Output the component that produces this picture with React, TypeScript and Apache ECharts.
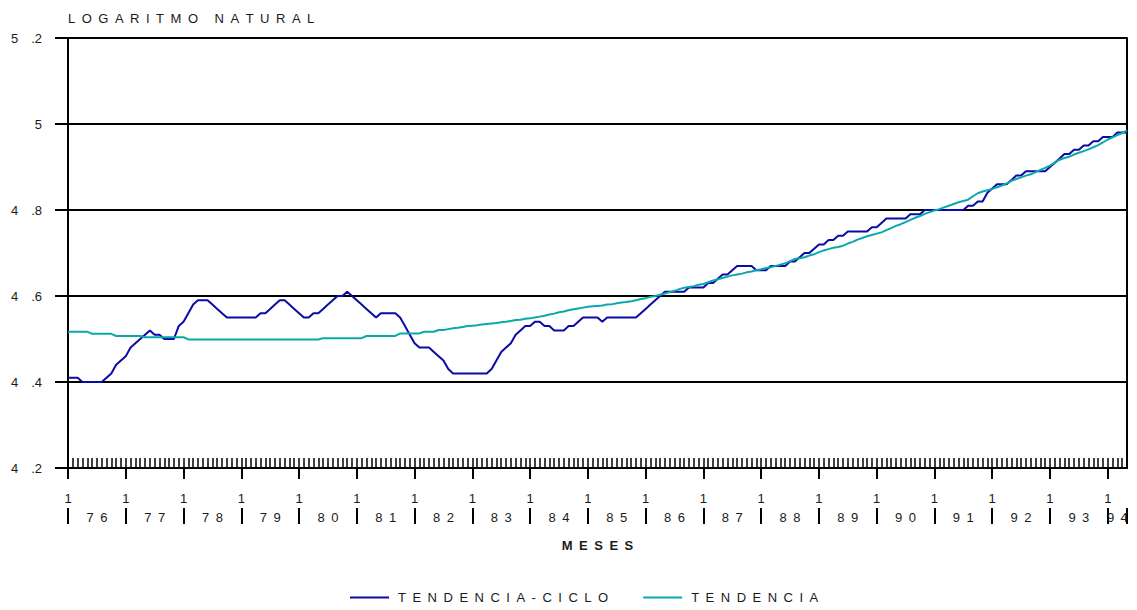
import React, { useEffect, useRef } from 'react';
import * as echarts from 'echarts';

const years = ['76', '77', '78', '79', '80', '81', '82', '83', '84', '85', '86', '87', '88', '89', '90', '91', '92', '93', '94'];
const seriesNames = ['TENDENCIA-CICLO', 'TENDENCIA'];

// monthly values, Jan 1976 .. May 1994
const tendenciaCiclo = [
  4.41, 4.41, 4.41, 4.40, 4.40, 4.40, 4.40, 4.40, 4.41, 4.42, 4.44, 4.45,
  4.46, 4.48, 4.49, 4.50, 4.51, 4.52, 4.51, 4.51, 4.50, 4.50, 4.50, 4.53,
  4.54, 4.56, 4.58, 4.59, 4.59, 4.59, 4.58, 4.57, 4.56, 4.55, 4.55, 4.55,
  4.55, 4.55, 4.55, 4.55, 4.56, 4.56, 4.57, 4.58, 4.59, 4.59, 4.58, 4.57,
  4.56, 4.55, 4.55, 4.56, 4.56, 4.57, 4.58, 4.59, 4.60, 4.60, 4.61, 4.60,
  4.59, 4.58, 4.57, 4.56, 4.55, 4.56, 4.56, 4.56, 4.56, 4.55, 4.53, 4.51,
  4.49, 4.48, 4.48, 4.48, 4.47, 4.46, 4.45, 4.43, 4.42, 4.42, 4.42, 4.42,
  4.42, 4.42, 4.42, 4.42, 4.43, 4.45, 4.47, 4.48, 4.49, 4.51, 4.52, 4.53,
  4.53, 4.54, 4.54, 4.53, 4.53, 4.52, 4.52, 4.52, 4.53, 4.53, 4.54, 4.55,
  4.55, 4.55, 4.55, 4.54, 4.55, 4.55, 4.55, 4.55, 4.55, 4.55, 4.55, 4.56,
  4.57, 4.58, 4.59, 4.60, 4.61, 4.61, 4.61, 4.61, 4.61, 4.62, 4.62, 4.62,
  4.62, 4.63, 4.63, 4.64, 4.65, 4.65, 4.66, 4.67, 4.67, 4.67, 4.67, 4.66,
  4.66, 4.66, 4.67, 4.67, 4.67, 4.67, 4.68, 4.68, 4.69, 4.70, 4.70, 4.71,
  4.72, 4.72, 4.73, 4.73, 4.74, 4.74, 4.75, 4.75, 4.75, 4.75, 4.75, 4.76,
  4.76, 4.77, 4.78, 4.78, 4.78, 4.78, 4.78, 4.79, 4.79, 4.79, 4.80, 4.80,
  4.80, 4.80, 4.80, 4.80, 4.80, 4.80, 4.80, 4.81, 4.81, 4.82, 4.82, 4.84,
  4.85, 4.86, 4.86, 4.86, 4.87, 4.88, 4.88, 4.89, 4.89, 4.89, 4.89, 4.89,
  4.90, 4.91, 4.92, 4.93, 4.93, 4.94, 4.94, 4.95, 4.95, 4.96, 4.96, 4.97,
  4.97, 4.97, 4.98, 4.98, 4.98,
];

const tendencia = [
  4.517, 4.517, 4.517, 4.517, 4.517, 4.512, 4.512, 4.512, 4.512, 4.512, 4.507, 4.507,
  4.507, 4.507, 4.507, 4.507, 4.504, 4.504, 4.504, 4.504, 4.504, 4.504, 4.504, 4.504,
  4.504, 4.499, 4.499, 4.499, 4.499, 4.499, 4.499, 4.499, 4.499, 4.499, 4.499, 4.499,
  4.499, 4.499, 4.499, 4.499, 4.499, 4.499, 4.499, 4.499, 4.499, 4.499, 4.499, 4.499,
  4.499, 4.499, 4.499, 4.499, 4.499, 4.502, 4.502, 4.502, 4.502, 4.502, 4.502, 4.502,
  4.502, 4.502, 4.507, 4.507, 4.507, 4.507, 4.507, 4.507, 4.507, 4.513, 4.513, 4.513,
  4.513, 4.513, 4.517, 4.517, 4.517, 4.521, 4.521, 4.523, 4.525, 4.526, 4.528, 4.530,
  4.531, 4.532, 4.534, 4.535, 4.536, 4.537, 4.539, 4.540, 4.542, 4.544, 4.545, 4.547,
  4.548, 4.550, 4.552, 4.554, 4.557, 4.559, 4.562, 4.564, 4.567, 4.569, 4.571, 4.573,
  4.575, 4.576, 4.577, 4.578, 4.580, 4.581, 4.583, 4.585, 4.586, 4.588, 4.590, 4.593,
  4.595, 4.598, 4.600, 4.603, 4.606, 4.609, 4.612, 4.616, 4.619, 4.621, 4.623, 4.626,
  4.628, 4.632, 4.636, 4.639, 4.642, 4.645, 4.648, 4.650, 4.652, 4.655, 4.657, 4.660,
  4.662, 4.665, 4.667, 4.670, 4.673, 4.676, 4.681, 4.686, 4.688, 4.690, 4.694, 4.697,
  4.702, 4.706, 4.709, 4.712, 4.714, 4.717, 4.722, 4.726, 4.731, 4.735, 4.739, 4.742,
  4.745, 4.748, 4.753, 4.758, 4.763, 4.767, 4.772, 4.777, 4.782, 4.786, 4.791, 4.795,
  4.799, 4.802, 4.806, 4.810, 4.814, 4.818, 4.821, 4.824, 4.832, 4.839, 4.843, 4.846,
  4.849, 4.853, 4.857, 4.862, 4.868, 4.872, 4.876, 4.880, 4.883, 4.888, 4.893, 4.898,
  4.903, 4.910, 4.917, 4.921, 4.924, 4.929, 4.933, 4.937, 4.941, 4.946, 4.951, 4.957,
  4.964, 4.969, 4.974, 4.979, 4.985,
];

const BLUE = '#0A0AA6';
const TEAL = '#0AA8AA';
const INK = '#1a1a1a';
const FONT = '"Liberation Sans", Arial, sans-serif';

const spaced = (s: string, sep = '\u2002') => s.split('').join(sep);

export default function App() {
  const ref = useRef<HTMLDivElement>(null);

  useEffect(() => {
    if (!ref.current) return;
    const chart = echarts.init(ref.current, undefined, { renderer: 'svg' });

    const nMonths = tendenciaCiclo.length - 1; // axis span in months
    const monthTicks = tendenciaCiclo.map((_, i) => i);
    const yearStarts = years.map((_, k) => k * 12);
    const yearBars = [...yearStarts, nMonths];
    const yearCenters = years.map((_, k) => (k < years.length - 1 ? k * 12 + 6 : k * 12 + 2));

    const fmtY = (v: number) => {
      const s = v.toFixed(1);
      if (s.endsWith('.0')) return s.slice(0, -2);
      const [a, b] = s.split('.');
      return a + '\u2003.' + b;
    };
    const fmtYear = (v: number) => {
      const k = yearCenters.findIndex((c) => Math.abs(c - v) < 0.01);
      return k >= 0 ? spaced(years[k]) : '';
    };

    const baseX = { type: 'value', min: 0, max: nMonths, position: 'bottom', splitLine: { show: false } };

    chart.setOption({
      animation: false,
      textStyle: { fontFamily: FONT },
      title: {
        text: spaced('LOGARITMO NATURAL'),
        left: 63,
        top: 7,
        textStyle: { fontSize: 13, fontWeight: 'normal', color: INK, fontFamily: FONT },
      },
      legend: {
        data: seriesNames,
        left: 345,
        top: 586,
        icon: 'rect',
        itemWidth: 39,
        itemHeight: 2,
        itemGap: 35,
        formatter: (n: string) => spaced(n),
        textStyle: { fontSize: 13, color: INK, fontFamily: FONT, padding: [0, 0, 0, 4] },
      },
      grid: { left: 68, right: 10, top: 38, bottom: 142, containLabel: false },
      xAxis: [
        {
          ...baseX,
          z: 3,
          axisLine: { show: true, onZero: false, lineStyle: { color: '#000', width: 2 } },
          axisTick: { show: true, inside: true, length: 10, customValues: monthTicks, lineStyle: { color: '#000', width: 1.5 } },
          axisLabel: { show: false },
        },
        {
          ...baseX,
          axisLine: { show: false, onZero: false },
          axisTick: { show: true, length: 11, customValues: yearStarts, lineStyle: { color: '#000', width: 2 } },
          axisLabel: { show: true, customValues: yearStarts, formatter: () => '1', margin: 24, fontSize: 13, color: INK, fontFamily: FONT },
        },
        {
          ...baseX,
          offset: 40,
          axisLine: { show: false, onZero: false },
          axisTick: { show: true, length: 16, customValues: yearBars, lineStyle: { color: '#000', width: 2 } },
          axisLabel: { show: true, customValues: yearCenters, formatter: fmtYear, margin: 3, fontSize: 13, color: INK, fontFamily: FONT },
          name: spaced('MESES'),
          nameLocation: 'middle',
          nameGap: 31,
          nameTextStyle: { fontSize: 13, fontWeight: 'bold', color: INK, fontFamily: FONT },
        },
      ],
      yAxis: [
        {
          type: 'value',
          min: 4.2,
          max: 5.2,
          interval: 0.2,
          position: 'left',
          z: 3,
          axisLine: { show: true, onZero: false, lineStyle: { color: '#000', width: 2 } },
          axisTick: { show: true, length: 13, lineStyle: { color: '#000', width: 2 } },
          axisLabel: { margin: 26, fontSize: 13, color: INK, fontFamily: FONT, formatter: fmtY },
          splitLine: { show: true, lineStyle: { color: '#000', width: 2 } },
        },
        {
          type: 'value',
          min: 4.2,
          max: 5.2,
          position: 'right',
          z: 3,
          axisLine: { show: true, onZero: false, lineStyle: { color: '#000', width: 2 } },
          axisTick: { show: false },
          axisLabel: { show: false },
          splitLine: { show: false },
        },
      ],
      series: [
        {
          name: seriesNames[0],
          type: 'line',
          xAxisIndex: 0,
          yAxisIndex: 0,
          data: tendenciaCiclo.map((v, i) => [i, v]),
          symbol: 'none',
          lineStyle: { color: BLUE, width: 2 },
          itemStyle: { color: BLUE },
        },
        {
          name: seriesNames[1],
          type: 'line',
          xAxisIndex: 0,
          yAxisIndex: 0,
          data: tendencia.map((v, i) => [i, v]),
          symbol: 'none',
          lineStyle: { color: TEAL, width: 2 },
          itemStyle: { color: TEAL },
        },
      ],
    });

    return () => chart.dispose();
  }, []);

  return (
    <div
      ref={ref}
      style={{ position: 'fixed', left: 0, top: 0, width: 1137, height: 610, background: '#fff' }}
    />
  );
}
